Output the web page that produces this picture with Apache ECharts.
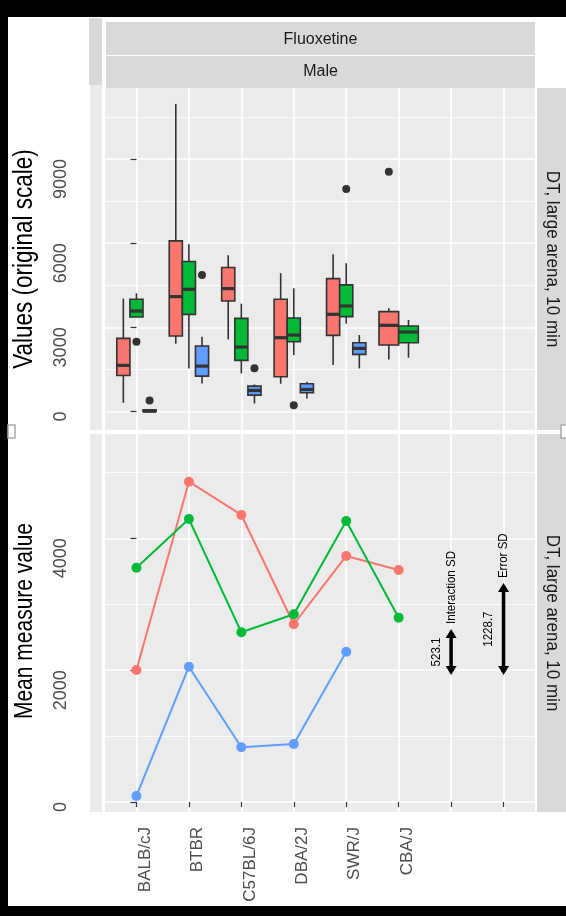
<!DOCTYPE html>
<html>
<head>
<meta charset="utf-8">
<script src="https://cdn.jsdelivr.net/npm/echarts@6/dist/echarts.min.js"></script>
<style>
html, body { margin: 0; padding: 0; background: #fff; }
#chart { width: 566px; height: 916px; }
</style>
</head>
<body>
<div id="chart"></div>
<script>
// strains on the x axis, the last two slots hold the SD arrows
var strains = ['BALB/cJ', 'BTBR', 'C57BL/6J', 'DBA/2J', 'SWR/J', 'CBA/J', '', ''];
var catTicks = [0, 1, 2, 3, 4, 5, 6, 7];

// box stats per strain: [low whisker, Q1, median, Q3, high whisker]
var boxRed = [
	[310, 1286, 1643, 2607, 4025],
	[2417, 2690, 4096, 6083, 10964],
	[2571, 3940, 4381, 5131, 5571],
	[988, 1238, 2631, 4000, 4929],
	[1655, 2714, 3464, 4738, 5607],
	[1857, 2369, 3071, 3560, 3679]
];
var boxGreen = [
	[3368, 3368, 3582, 4000, 4214],
	[1536, 3464, 4357, 5345, 5964],
	[1357, 1821, 2298, 3321, 3845],
	[2012, 2488, 2726, 3333, 4393],
	[3131, 3381, 3762, 4512, 5286],
	[1917, 2452, 2833, 3048, 3262]
];
var boxBlue = [
	[0, 0, 10, 60, 60],
	[1000, 1262, 1619, 2333, 2667],
	[286, 583, 750, 905, 964],
	[464, 667, 786, 988, 1060],
	[1536, 2036, 2250, 2452, 2726],
	null
];
// outliers: [strain, group, value]
var outliers = [[0, 1, 2489], [0, 2, 393], [1, 2, 4869], [2, 2, 1540], [3, 1, 226], [4, 1, 7929], [5, 0, 8548]];

// means (lower panel)
var meanRed = [2002, 4859, 4354, 2696, 3732, 3519];
var meanGreen = [3554, 4293, 2574, 2847, 4263, 2796];
var meanBlue = [91, 2052, 830, 880, 2280, null];

// SD arrows
var sdSlot = [6, 7];
var sdFrom = [1925, 1925];
var sdTo = [2625, 3320];
var sdValue = ['523.1', '1228.7'];
var sdName = ['Interaction SD', 'Error SD'];

var topTicks = [0, 3000, 6000, 9000];
var topMinor = [1500, 4500, 7500, 10500];
var lowTicks = [0, 2000, 4000];
var lowMinor = [1000, 3000, 5000];

var colors = ['#F8766D', '#00BA38', '#619CFF'];
var boxStats = [boxRed, boxGreen, boxBlue];
var sans = 'Liberation Sans';

//dodge position of a group inside a strain (ggplot style)
function dodge(i, g){
	var present = [];
	for (var k = 0; k < 3; k++) {
		if (boxStats[k][i]) present.push(k);
	}
	var w = 0.75 / present.length;
	return { center: i - 0.375 + w * (present.indexOf(g) + 0.5), width: w };
}

function boxSeries(g){
	var data = [];
	boxStats[g].forEach(function(s, i){
		if (s) data.push([i].concat(s));
	});
	return {
		type: 'custom',
		xAxisIndex: 0,
		yAxisIndex: 0,
		encode: { x: 0, y: [1, 2, 3, 4, 5] },
		data: data,
		renderItem: function(params, api){
			var i = api.value(0);
			var d = dodge(i, g);
			var lo = api.coord([d.center, api.value(1)]);
			var q1 = api.coord([d.center, api.value(2)]);
			var md = api.coord([d.center, api.value(3)]);
			var q3 = api.coord([d.center, api.value(4)]);
			var hi = api.coord([d.center, api.value(5)]);
			var xl = api.coord([d.center - d.width / 2, 0])[0];
			var xr = api.coord([d.center + d.width / 2, 0])[0];
			var xc = lo[0];
			var stroke = { stroke: '#333', lineWidth: 1.6 };
			return {
				type: 'group',
				children: [
					{ type: 'line', shape: { x1: xc, y1: hi[1], x2: xc, y2: q3[1] }, style: stroke },
					{ type: 'line', shape: { x1: xc, y1: q1[1], x2: xc, y2: lo[1] }, style: stroke },
					{ type: 'rect', shape: { x: xl, y: q3[1], width: xr - xl, height: q1[1] - q3[1] },
						style: { fill: colors[g], stroke: '#333', lineWidth: 1.6 } },
					{ type: 'line', shape: { x1: xl, y1: md[1], x2: xr, y2: md[1] }, style: { stroke: '#333', lineWidth: 3.2 } }
				]
			};
		}
	};
}

function lineSeries(values, g){
	var data = [];
	values.forEach(function(v, i){
		if (v != null) data.push([i, v]);
	});
	return {
		type: 'line',
		xAxisIndex: 1,
		yAxisIndex: 2,
		data: data,
		symbol: 'circle',
		symbolSize: 10,
		lineStyle: { color: colors[g], width: 2 },
		itemStyle: { color: colors[g] },
		emphasis: { disabled: true }
	};
}

function xAxisOf(grid, withLabels){
	return {
		type: 'value',
		gridIndex: grid,
		min: -0.6,
		max: 7.6,
		axisLine: { show: false },
		axisTick: { show: withLabels, customValues: catTicks, length: 5, lineStyle: { color: '#333', width: 1.2 } },
		axisLabel: {
			show: withLabels,
			customValues: catTicks,
			formatter: function(v){ return strains[v]; },
			rotate: 90,
			align: 'right',
			verticalAlign: 'top',
			margin: 15,
			color: '#4D4D4D',
			fontFamily: sans,
			fontSize: 17
		},
		splitLine: { show: true, lineStyle: { color: '#fff', width: 1.6 } }
	};
}

function yMajor(grid, min, max, ticks){
	return {
		type: 'value',
		gridIndex: grid,
		min: min,
		max: max,
		offset: 15,
		axisLine: { show: false },
		axisTick: { show: true, customValues: ticks, length: 6, lineStyle: { color: '#333', width: 1.2 } },
		axisLabel: {
			customValues: ticks,
			formatter: function(v){ return String(v); },
			rotate: 90,
			align: 'right',
			verticalAlign: 'middle',
			margin: 29,
			color: '#4D4D4D',
			fontFamily: sans,
			fontSize: 18
		},
		splitLine: { show: true, lineStyle: { color: '#fff', width: 1.6 } }
	};
}

function yMinor(grid, min, max, ticks){
	return {
		type: 'value',
		gridIndex: grid,
		min: min,
		max: max,
		axisLine: { show: false },
		axisTick: { show: false, customValues: ticks },
		axisLabel: { show: false, customValues: ticks },
		splitLine: { show: true, lineStyle: { color: '#fff', width: 0.8 } }
	};
}

function rect(x, y, w, h, fill){
	return { type: 'rect', shape: { x: x, y: y, width: w, height: h }, style: { fill: fill }, silent: true };
}

function label(x, y, text, rot, stretch, font, fill){
	return {
		type: 'text', x: x, y: y, rotation: rot, scaleY: stretch, silent: true,
		style: { text: text, font: font, fill: fill, align: 'center', verticalAlign: 'middle' }
	};
}

var option = {
	backgroundColor: '#fff',
	animation: false,
	grid: [
		{ left: 105, top: 88, width: 430, height: 342, show: true, backgroundColor: '#EBEBEB', borderWidth: 0, outerBoundsMode: 'none' },
		{ left: 105, top: 434, width: 430, height: 378, show: true, backgroundColor: '#EBEBEB', borderWidth: 0, outerBoundsMode: 'none' }
	],
	xAxis: [xAxisOf(0, false), xAxisOf(1, true)],
	yAxis: [
		yMajor(0, -659, 11531, topTicks),
		yMinor(0, -659, 11531, topMinor),
		yMajor(1, -152, 5582, lowTicks),
		yMinor(1, -152, 5582, lowMinor)
	],
	graphic: [
		rect(0, 0, 566, 17, '#000'),
		rect(0, 0, 8, 916, '#000'),
		rect(0, 906, 566, 10, '#000'),
		rect(89, 18, 13, 67, '#D9D9D9'),
		rect(90, 85, 12, 345, '#EBEBEB'),
		rect(90, 434, 12, 378, '#EBEBEB'),
		rect(106, 22, 429, 33, '#D9D9D9'),
		rect(106, 56, 429, 32, '#D9D9D9'),
		rect(537, 88, 29, 342, '#D9D9D9'),
		rect(537, 434, 29, 378, '#D9D9D9'),
		label(320.5, 40, 'Fluoxetine', 0, 1, '16px "Liberation Sans"', '#1A1A1A'),
		label(320.5, 72, 'Male', 0, 1, '16px "Liberation Sans"', '#1A1A1A'),
		label(552, 259, 'DT, large arena, 10 min', -Math.PI / 2, 1.05, '17px "Liberation Sans"', '#1A1A1A'),
		label(552, 623, 'DT, large arena, 10 min', -Math.PI / 2, 1.05, '17px "Liberation Sans"', '#1A1A1A'),
		label(25, 259, 'Values (original scale)', Math.PI / 2, 1.2, '22.5px "Liberation Sans"', '#000'),
		label(25, 621, 'Mean measure value', Math.PI / 2, 1.2, '21px "Liberation Sans"', '#000'),
		{ type: 'rect', shape: { x: 8, y: 425, width: 7, height: 13 }, style: { fill: '#fff', stroke: '#aaa', lineWidth: 1.5 } },
		{ type: 'rect', shape: { x: 561, y: 425, width: 8, height: 13 }, style: { fill: '#fff', stroke: '#aaa', lineWidth: 1.5 } }
	],
	series: [
		boxSeries(0),
		boxSeries(1),
		boxSeries(2),
		{
			type: 'custom',
			xAxisIndex: 0,
			yAxisIndex: 0,
			encode: { x: 0, y: 2 },
			data: outliers,
			renderItem: function(params, api){
				var d = dodge(api.value(0), api.value(1));
				var p = api.coord([d.center, api.value(2)]);
				return { type: 'circle', shape: { cx: p[0], cy: p[1], r: 4 }, style: { fill: '#333' } };
			}
		},
		lineSeries(meanRed, 0),
		lineSeries(meanGreen, 1),
		lineSeries(meanBlue, 2),
		{
			type: 'custom',
			xAxisIndex: 1,
			yAxisIndex: 2,
			encode: { x: 0, y: [1, 2] },
			data: sdSlot.map(function(s, k){ return [s, sdFrom[k], sdTo[k]]; }),
			renderItem: function(params, api){
				var k = params.dataIndex;
				var pb = api.coord([api.value(0), api.value(1)]);
				var pt = api.coord([api.value(0), api.value(2)]);
				var x = pb[0], yb = pb[1], yt = pt[1];
				var hl = 9, hw = 5.5;
				var font = '11.5px "Liberation Sans"';
				return {
					type: 'group',
					children: [
						{ type: 'line', shape: { x1: x, y1: yb - 3, x2: x, y2: yt + 3 }, style: { stroke: '#000', lineWidth: 3.5 } },
						{ type: 'polygon', shape: { points: [[x, yt], [x - hw, yt + hl], [x + hw, yt + hl]] }, style: { fill: '#000' } },
						{ type: 'polygon', shape: { points: [[x, yb], [x - hw, yb - hl], [x + hw, yb - hl]] }, style: { fill: '#000' } },
						{ type: 'text', x: x - 8, y: (yb + yt) / 2, rotation: Math.PI / 2, scaleY: 1.15,
							style: { text: sdValue[k], font: font, fill: '#000', align: 'center', verticalAlign: 'bottom' } },
						{ type: 'text', x: x, y: yt - 5, rotation: Math.PI / 2, scaleY: 1.15,
							style: { text: sdName[k], font: font, fill: '#000', align: 'left', verticalAlign: 'middle' } }
					]
				};
			}
		}
	]
};

var chart = echarts.init(document.getElementById('chart'));
chart.setOption(option);
window.onresize = chart.resize;
</script>
</body>
</html>
